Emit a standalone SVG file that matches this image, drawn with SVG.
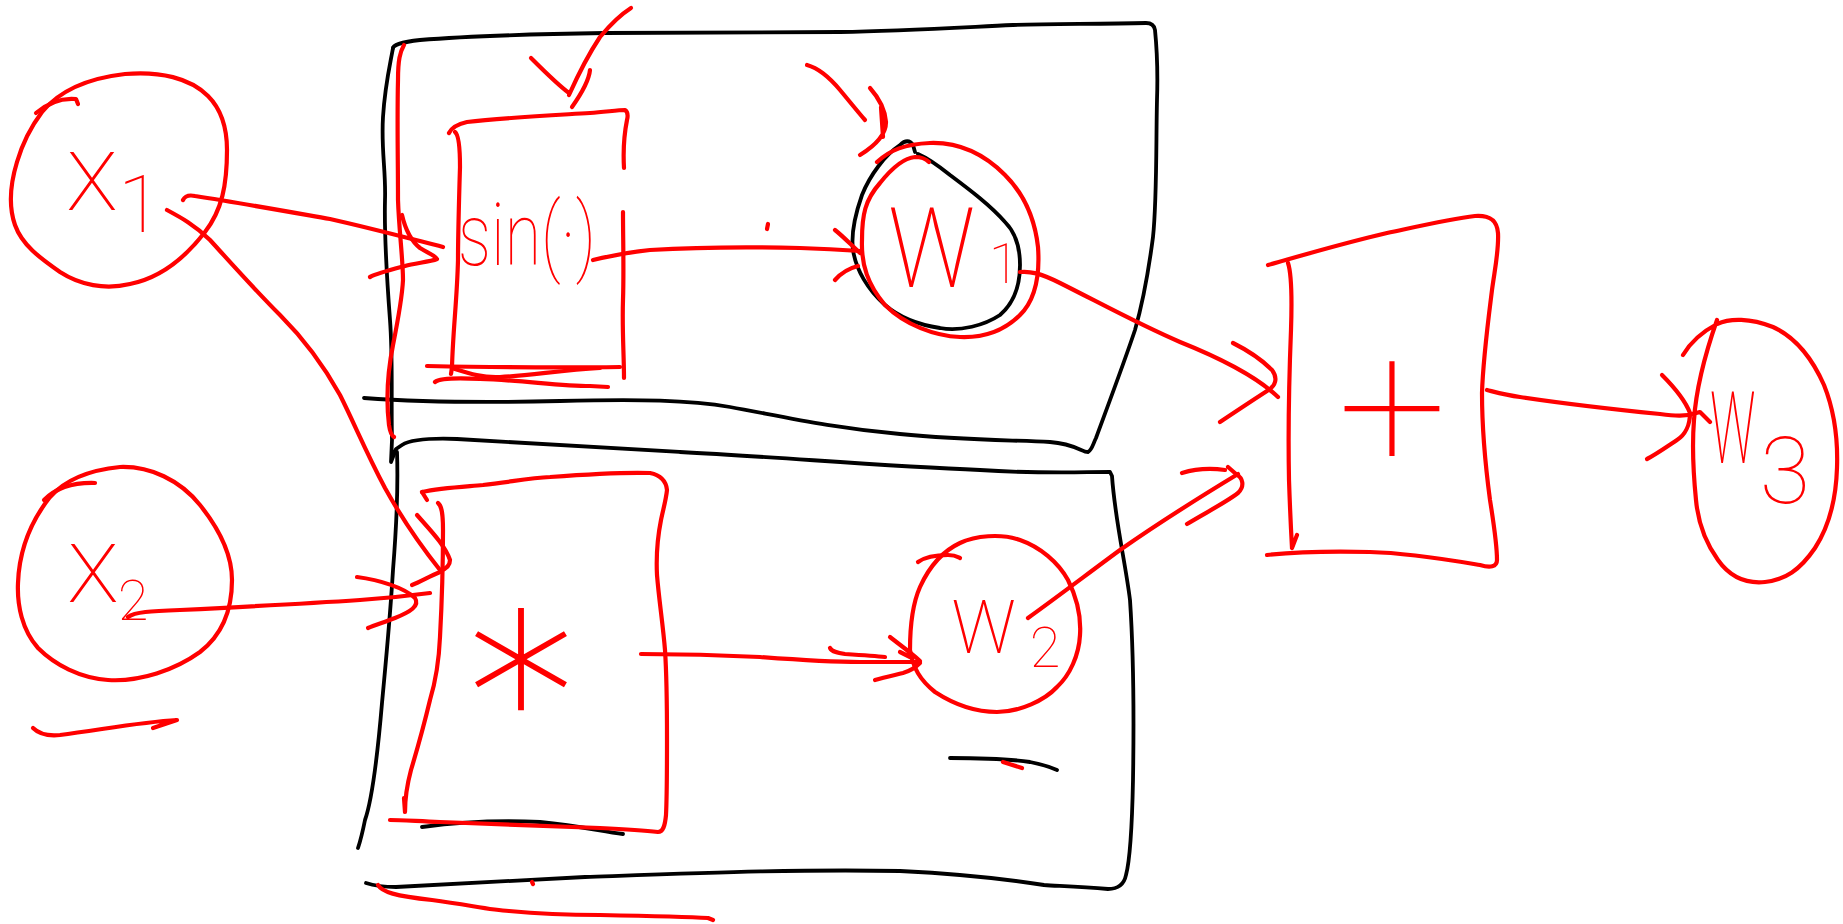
<svg xmlns="http://www.w3.org/2000/svg" width="1843" height="924" viewBox="0 0 1843 924">
  <style>
    .ink { fill: none; stroke-linecap: round; stroke-linejoin: round; }
    .red { stroke: #ff0000; stroke-width: 4.2; }
    .blk { stroke: #000000; stroke-width: 3.8; }
    .lbl { font-family: "Roboto", "Lato", "Inter", "Liberation Sans", sans-serif; font-weight: 100; fill: #ff0000; text-anchor: middle; }
    .op { font-family: "Inter", "Roboto", "Lato", sans-serif; font-weight: 100; fill: #ff0000; text-anchor: middle; }
  </style>
  <rect width="1843" height="924" fill="#ffffff"/>

  <!-- black frames around the two branches -->
  <g id="frames" class="ink blk">
    <path d="M 364,398 C 420,402 480,403 560,401 C 640,399 690,400 730,407 C 780,416 830,428 900,434 C 960,440 1010,440 1050,442 C 1075,444 1082,452 1088,452 C 1092,450 1093,444 1096,438 C 1110,400 1125,360 1135,330 C 1145,295 1150,260 1153,237 C 1157,200 1156,140 1157,100 C 1158,70 1156,40 1155,30 C 1154,24 1150,23 1146,23 C 1100,24 1050,24 1013,25 C 950,28 900,31 840,32 C 760,33 680,33 605,33 C 540,34 480,35 420,40 C 400,42 393,46 393,48"/>
    <path d="M 393,48 C 390,65 385,85 383,117 C 381,150 386,170 385,200 C 384,240 387,280 390,320 C 393,360 391,400 392,440 L 391,462 L 396,449 L 402,445 C 410,440 430,438 457,439 C 520,443 600,448 680,452 C 780,457 880,466 980,470 C 1040,474 1080,472 1110,472 L 1112,476 C 1115,520 1125,560 1130,600 C 1134,660 1134,720 1133,780 C 1132,830 1130,860 1126,875 C 1124,885 1118,889 1108,889 C 1080,887 1060,886 1044,885 C 1000,878 960,874 900,871 C 800,869 700,873 585,877 C 500,881 430,885 396,887 C 380,887 372,885 366,883"/>
    <path d="M 397,452 C 398,480 397,520 393,570 C 390,620 386,660 382,703 C 378,750 372,800 365,820 C 362,835 360,842 358,848"/>
    <path d="M 422,827 C 460,822 500,820 540,822 C 580,826 600,831 623,834"/>
    <path d="M 950,758 C 980,758 1010,759 1030,762 C 1040,764 1050,767 1057,770"/>
  </g>

  <!-- input x1 -->
  <g id="node-x1">
    <path class="ink red" d="M 42,112 C 60,90 90,78 125,74 C 160,71 190,78 208,96 C 222,110 227,130 227,150 C 227,185 222,210 205,232 C 185,258 160,278 130,284 C 105,290 80,285 60,272 C 40,258 22,245 15,225 C 8,205 10,185 17,162 C 22,145 30,128 42,112"/>
    <path class="ink red" d="M 36,113 Q 55,97 76,99 L 78,104"/>
    <text class="lbl"><tspan x="92" y="210" font-size="110">x</tspan><tspan x="140" y="232" font-size="80">1</tspan></text>
  </g>

  <!-- input x2 -->
  <g id="node-x2">
    <path class="ink red" d="M 50,497 C 65,480 90,470 120,467 C 150,466 180,480 200,505 C 220,530 232,555 232,580 C 232,610 222,635 200,652 C 175,670 140,682 108,680 C 80,678 55,665 38,648 C 22,630 17,605 18,583 C 19,555 28,525 50,497"/>
    <path class="ink red" d="M 44,500 Q 62,482 95,483"/>
    <text class="lbl"><tspan x="93" y="602" font-size="110">x</tspan><tspan x="133" y="620" font-size="56">2</tspan></text>
    <path class="ink red" d="M 33,728 C 40,735 50,736 60,735 C 100,730 140,722 177,720 L 153,728"/>
  </g>

  <!-- sin(.) block -->
  <g id="node-sin" class="ink red">
    <path d="M 449,133 C 452,127 458,124 467,122 C 500,118 540,116 590,113 C 605,112 618,110 625,110 C 628,112 628,116 627,120 C 624,135 623,150 624,168"/>
    <path d="M 623,212 C 623,240 624,270 623,300 C 622,330 624,355 624,378"/>
    <path d="M 455,132 C 459,135 460,150 460,167 C 459,200 458,233 458,260 C 457,300 453,330 452,367 L 451,374"/>
    <path d="M 427,366 C 480,367 560,368 620,367"/>
    <path d="M 435,382 C 440,378 460,378 480,379 C 520,380 560,386 590,386 L 608,387"/>
    <path d="M 452,368 C 465,372 480,378 500,377 C 530,376 560,370 600,368"/>
    <text class="lbl" x="458" y="265" font-size="88" textLength="138" lengthAdjust="spacingAndGlyphs" style="text-anchor:start;stroke:none">sin(·)</text>
  </g>

  <!-- product block -->
  <g id="node-mul">
    <path class="ink red" d="M 422,492 C 440,488 460,487 483,485 C 510,482 530,478 550,477 C 590,474 620,472 650,473 C 660,475 666,480 667,490 C 666,500 663,510 661,520 C 657,540 656,555 657,575 C 659,600 663,625 665,650 C 667,680 667,710 667,740 C 667,770 667,795 666,815 C 665,826 663,832 658,832 C 640,830 620,829 600,828 C 540,826 483,824 440,822 C 415,821 400,820 390,820"/>
    <path class="ink red" d="M 422,492 L 427,500"/>
    <path class="ink red" d="M 438,503 C 442,506 443,515 443,530 C 443,560 442,600 440,637 C 439,660 436,680 430,700 C 424,725 417,750 411,770 C 407,785 405,800 405,812 M 404,798 L 405,812"/>
    <text class="op" x="521" y="790" font-size="250">*</text>
  </g>

  <!-- weight w1 -->
  <g id="node-w1">
    <path class="ink blk" d="M 915,152 L 913,145 C 910,140 905,140 900,145 C 885,155 870,175 862,195 C 855,215 851,235 853,250 C 856,270 868,290 885,305 C 900,318 920,325 940,328 C 960,332 985,325 1000,315 C 1015,302 1020,285 1020,265 C 1020,245 1015,232 1005,222 C 990,205 970,190 950,175 C 935,163 925,157 918,154"/>
    <path class="ink red" d="M 877,162 C 890,150 905,144 930,143 C 960,142 985,155 1005,175 C 1025,195 1035,220 1038,247 C 1040,275 1035,300 1020,315 C 1005,330 985,338 960,337 C 935,336 905,325 885,305 C 868,285 861,265 862,240 C 862,215 865,200 880,183 C 892,168 903,158 915,157 C 922,157 927,160 929,162"/>
    <text class="lbl"><tspan x="932" y="287" font-size="150" textLength="92" lengthAdjust="spacingAndGlyphs">w</tspan><tspan x="1004" y="283" font-size="56">1</tspan></text>
  </g>

  <!-- weight w2 -->
  <g id="node-w2">
    <path class="ink red" d="M 910,650 C 910,630 912,605 920,587 C 930,565 945,550 960,543 C 975,536 1000,533 1020,540 C 1040,547 1058,562 1068,580 C 1078,600 1081,620 1080,635 C 1079,655 1070,675 1057,687 C 1045,700 1020,712 997,712 C 975,712 955,705 935,692 C 920,680 913,668 910,650"/>
    <path class="ink red" d="M 918,562 C 925,557 935,555 948,555 C 955,555 958,557 960,558"/>
    <text class="lbl"><tspan x="984" y="653" font-size="100" textLength="68" lengthAdjust="spacingAndGlyphs">w</tspan><tspan x="1045" y="667" font-size="56">2</tspan></text>
  </g>

  <!-- sum block -->
  <g id="node-add">
    <path class="ink red" d="M 1268,265 C 1300,256 1340,244 1387,233 C 1420,226 1450,219 1475,216 C 1490,215 1497,220 1498,233 C 1499,250 1495,268 1492,290 C 1487,330 1483,360 1482,393 C 1482,430 1486,470 1490,500 C 1494,525 1497,545 1497,560 C 1497,567 1490,568 1480,565 C 1450,560 1410,553 1370,552 C 1330,551 1295,552 1267,555"/>
    <path class="ink red" d="M 1288,263 C 1292,275 1292,300 1291,330 C 1289,380 1288,430 1289,480 C 1290,510 1291,530 1292,548 M 1297,535 L 1292,548"/>
    <text class="op" x="1392" y="474" font-size="230">+</text>
  </g>

  <!-- output w3 -->
  <g id="node-w3">
    <path class="ink red" d="M 1683,355 C 1690,343 1700,333 1717,324 C 1730,318 1750,318 1773,327 C 1795,337 1812,358 1824,385 C 1834,410 1838,440 1837,468 C 1836,500 1828,528 1815,548 C 1800,570 1785,580 1765,582 C 1745,584 1730,577 1718,560 C 1705,542 1698,522 1696,500 C 1693,470 1692,445 1694,420 C 1696,390 1703,360 1717,320"/>
    <text class="lbl"><tspan x="1733" y="463" font-size="135" textLength="48" lengthAdjust="spacingAndGlyphs">w</tspan><tspan x="1785" y="503" font-size="92">3</tspan></text>
  </g>

  <!-- connectors -->
  <g id="connectors" class="ink red">
    <!-- x1 to sin -->
    <path d="M 183,200 Q 186,194 195,196 C 240,203 290,212 330,219 C 370,228 400,236 443,247"/>
    <path d="M 402,215 C 405,228 410,240 420,248 C 428,253 436,256 437,259 C 430,262 415,263 405,266 C 390,270 378,273 370,277"/>
    <!-- x1 to product -->
    <path d="M 167,210 C 180,217 195,225 210,240 C 230,262 255,290 280,315 C 305,340 325,368 340,395 C 355,425 365,450 385,488 C 400,515 420,545 440,570"/>
    <path d="M 417,515 C 430,530 445,545 450,560 C 450,566 446,569 440,571 M 412,585 C 420,582 430,576 440,572"/>
    <!-- x2 to product -->
    <path d="M 128,617 C 135,612 150,611 180,610 C 240,607 300,604 360,600 C 390,598 415,595 430,593"/>
    <path d="M 357,577 C 380,580 405,588 415,598 C 420,606 410,612 395,618 C 385,622 375,625 368,628"/>
    <!-- bracket along the top branch -->
    <path d="M 404,45 C 400,52 398,60 398,80 C 397,120 398,160 398,200 C 399,230 403,260 403,280 C 402,300 398,320 393,345 C 388,370 386,400 389,425 C 390,432 392,436 394,437"/>
    <!-- arrow into sin from above -->
    <path d="M 631,8 C 620,15 610,25 600,37 C 590,52 578,75 569,95 M 531,58 C 545,72 558,85 569,93 M 590,70 C 589,80 584,90 572,107"/>
    <!-- arrow into w1 from above -->
    <path d="M 807,65 C 818,68 830,78 840,90 C 850,102 858,112 865,120"/>
    <path d="M 870,88 C 878,97 885,110 886,122 C 886,135 873,147 860,155 M 881,107 L 883,137"/>
    <!-- sin to w1 -->
    <path d="M 593,260 C 610,256 630,252 650,250 C 700,247 760,247 800,248 C 830,249 845,250 860,251"/>
    <path d="M 835,230 C 845,238 852,246 860,253 M 835,280 C 842,272 850,268 858,266"/>
    <path d="M 768,224 L 767,229"/>
    <!-- product to w2 -->
    <path d="M 641,654 C 680,654 720,655 760,657 C 800,660 840,662 860,662 L 920,662"/>
    <path d="M 830,648 C 832,652 838,653 845,654 C 860,655 875,656 885,657"/>
    <path d="M 890,637 C 900,645 910,652 920,661 M 900,652 L 910,657 M 875,680 C 885,677 895,675 903,673 C 910,671 915,668 920,663"/>
    <!-- w1 to sum -->
    <path d="M 1020,272 C 1030,271 1040,273 1060,283 C 1100,303 1140,325 1180,342 C 1220,358 1255,375 1278,397"/>
    <path d="M 1233,343 C 1245,349 1262,360 1272,370 C 1278,378 1276,386 1267,391 C 1250,402 1235,412 1220,422"/>
    <!-- w2 to sum -->
    <path d="M 1028,618 C 1060,595 1090,572 1120,550 C 1160,522 1200,497 1238,474"/>
    <path d="M 1187,524 C 1205,513 1225,503 1238,493 C 1245,486 1243,478 1236,474 L 1228,467 M 1182,473 C 1195,469 1210,468 1225,470"/>
    <!-- sum to w3 -->
    <path d="M 1487,390 C 1495,392 1505,395 1520,397 C 1560,403 1620,410 1660,414 C 1675,416 1685,417 1700,412 L 1710,422"/>
    <path d="M 1662,375 C 1672,385 1685,400 1690,413 C 1690,425 1685,435 1677,440 C 1665,448 1655,455 1647,459"/>
    <!-- marks along the lower frame -->
    <path d="M 1003,762 L 1022,768"/>
    <path d="M 378,885 C 382,892 395,896 432,900 C 470,905 490,910 509,911 C 540,914 570,915 600,915 C 650,916 690,917 708,918 L 713,920"/>
    <path d="M 532,882 L 533,884"/>
  </g>
</svg>
